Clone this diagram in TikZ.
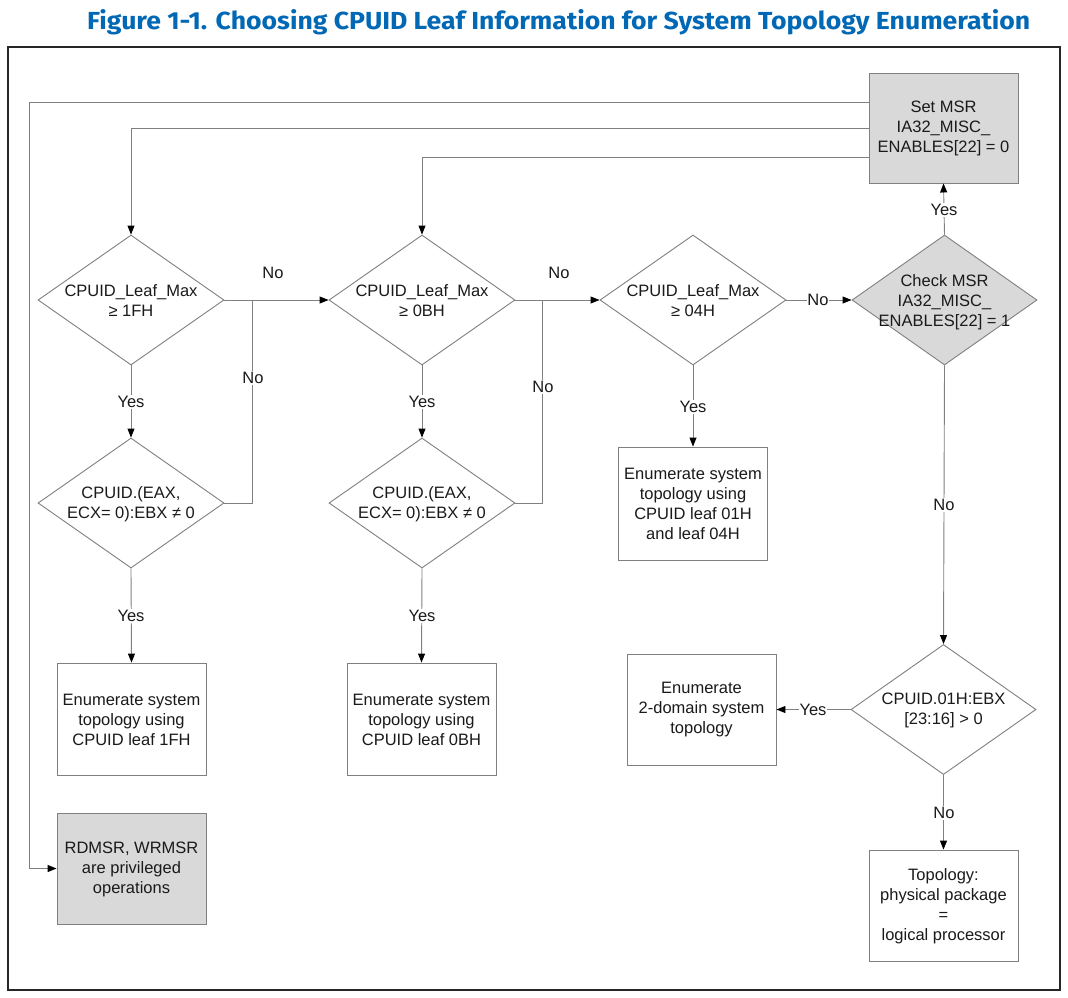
\documentclass[tikz,border=0pt]{standalone}
\usepackage{fontspec}
\setmainfont{Liberation Sans}
\newfontfamily\titlefont{Fira Sans}
\usetikzlibrary{shapes.geometric,arrows.meta,calc}
\definecolor{linegray}{HTML}{808080}
\definecolor{fillgray}{HTML}{D9D9D9}
\definecolor{txt}{HTML}{1A1A1A}
\definecolor{intelblue}{RGB}{0,104,181}
\tikzset{
  dia/.style={shape=diamond,draw=linegray,line width=0.9pt,minimum width=186pt,minimum height=130pt,inner sep=0pt},
  dbox/.style={shape=rectangle,draw=linegray,line width=0.9pt,minimum width=149pt,minimum height=112pt,inner sep=0pt},
  shaded/.style={fill=fillgray},
  ttext/.style={text=txt,align=center,font=\fontsize{16.5}{20}\selectfont,inner sep=0pt},
  lbl/.style={text=txt,font=\fontsize{16.5}{20}\selectfont,inner sep=1.5pt},
  wlbl/.style={lbl,fill=white},
  conn/.style={draw=linegray,line width=0.9pt},
  arr/.style={conn,-{Triangle[length=9pt,width=7pt,fill=black,color=black]}},
}
\begin{document}
\begin{tikzpicture}[x=1pt,y=-1pt]
\useasboundingbox (0,0) rectangle (1068,997);
\fill[white] (0,0) rectangle (1068,997);
% title
\node[anchor=base west,inner sep=0pt,text=intelblue] (title) at (87,29.5)
  {\resizebox{943pt}{20pt}{\titlefont\bfseries Figure 1-1. Choosing CPUID Leaf Information for System Topology Enumeration}};
% frame
\draw[line width=1.6pt,draw=black!85] (8,47) rectangle (1060,990);

% boxes
\node[dbox,shaded,minimum height=110pt] (setmsr) at (943.5,128) {};
\node[ttext] (setmsrt) at (943.5,128) {Set MSR\\IA32\_MISC\_\\ENABLES{[22]} = 0};

\node[dia] (d1) at (131,300) {};
\node[ttext] (d1t) at (131,301) {CPUID\_Leaf\_Max\\≥ 1FH};
\node[dia] (d1b) at (131,503) {};
\node[ttext] (d1bt) at (131,504) {CPUID.(EAX,\\ECX= 0):EBX ≠ 0};
\node[dbox] (b1) at (131.5,719) {};
\node[ttext] (b1t) at (131.5,720) {Enumerate system\\topology using\\CPUID leaf 1FH};

\node[dia] (d2) at (422,300) {};
\node[ttext] (d2t) at (422,301) {CPUID\_Leaf\_Max\\≥ 0BH};
\node[dia] (d2b) at (422,503) {};
\node[ttext] (d2bt) at (422,504) {CPUID.(EAX,\\ECX= 0):EBX ≠ 0};
\node[dbox] (b2) at (421.5,719) {};
\node[ttext] (b2t) at (421.5,720) {Enumerate system\\topology using\\CPUID leaf 0BH};

\node[dia] (d3) at (693,300) {};
\node[ttext] (d3t) at (693,301) {CPUID\_Leaf\_Max\\≥ 04H};
\node[dbox,minimum height=113pt] (b3) at (693,503.5) {};
\node[ttext] (b3t) at (693,504) {Enumerate system\\topology using\\CPUID leaf 01H\\and leaf 04H};

\node[dia,shaded,minimum width=185pt] (d4) at (944.5,300) {};
\node[ttext] (d4t) at (944.5,302) {Check MSR\\IA32\_MISC\_\\ENABLES{[22]} = 1};

\node[dia,minimum width=185pt] (d5) at (943.5,709.5) {};
\node[ttext] (d5t) at (943.5,710) {CPUID.01H:EBX\\{[23:16]} > 0};
\node[dbox,minimum height=111pt] (b5) at (701.5,709.5) {};
\node[ttext] (b5t) at (701.5,710) {Enumerate\\2-domain system\\topology};
\node[dbox,minimum height=111pt] (b6) at (943.5,905.5) {};
\node[ttext] (b6t) at (943.5,906) {Topology:\\physical package\\=\\logical processor};

\node[dbox,shaded,minimum height=111pt] (rd) at (131.5,868.5) {};
\node[ttext] (rdt) at (131.5,869) {RDMSR, WRMSR\\are privileged\\operations};

% connectors from Set MSR
\coordinate (c1) at (29,102);
\draw[arr] ($(setmsr.west)+(0,-26)$) -- (c1) |- (rd.west);
\draw[arr] (setmsr.west) -| (d1.north);
\draw[arr] ($(setmsr.west)+(0,29)$) -| (d2.north);

% left column
\draw[arr] (d1.east) -- (d2.west);
\node[lbl] (n1) at (273,273) {No};
\coordinate (j1) at (252,300);
\draw[conn] (d1b.east) -| (j1);
\node[wlbl] (n2) at (253,378) {No};
\draw[arr] (d1.south) -- (d1b.north);
\node[wlbl] (y1) at (131,402) {Yes};
\draw[arr] (d1b.south) -- (b1.north);
\node[wlbl] (y2) at (131,616) {Yes};

% middle column
\draw[arr] (d2.east) -- (d3.west);
\node[lbl] (n3) at (559,273) {No};
\coordinate (j2) at (542,300);
\draw[conn] (d2b.east) -| (j2);
\node[wlbl] (n4) at (543,387) {No};
\draw[arr] (d2.south) -- (d2b.north);
\node[wlbl] (y3) at (422,402) {Yes};
\draw[arr] (d2b.south) -- (b2.north);
\node[wlbl] (y4) at (422,616) {Yes};

% 04H column
\draw[arr] (d3.south) -- (b3.north);
\node[wlbl] (y5) at (693,407) {Yes};
\draw[arr] (d3.east) -- (d4.west);
\node[wlbl,inner sep=0.5pt] (n5) at (818,300) {No};

% right column
\draw[arr] (d4.north) -- (setmsr.south);
\node[wlbl] (y6) at (944,210) {Yes};
\draw[arr] (d4.south) -- (d5.north);
\node[wlbl] (n6) at (944,505) {No};
\draw[arr] (d5.west) -- (b5.east);
\node[wlbl,inner sep=0.5pt] (y7) at (813,709.5) {Yes};
\draw[arr] (d5.south) -- (b6.north);
\node[wlbl] (n7) at (944,813) {No};
\end{tikzpicture}
\end{document}
